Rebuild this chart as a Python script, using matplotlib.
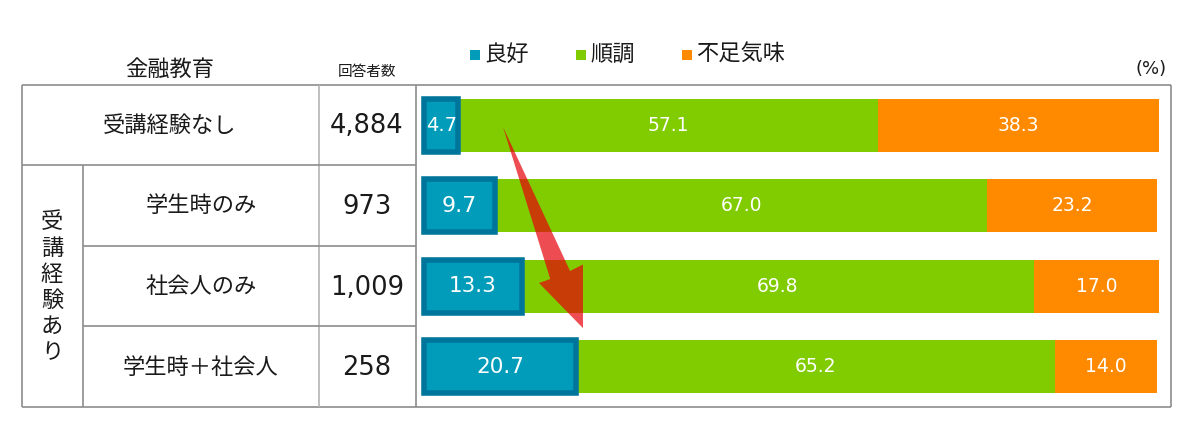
import matplotlib.pyplot as plt
from matplotlib.patches import Polygon, Rectangle

plt.rcParams['font.family'] = ['DejaVu Sans', 'Noto Sans CJK JP']

# データ
categories = ["受講経験なし", "学生時のみ", "社会人のみ", "学生時＋社会人"]
counts = ["4,884", "973", "1,009", "258"]
series_names = ["良好", "順調", "不足気味"]
good = [4.7, 9.7, 13.3, 20.7]
steady = [57.1, 67.0, 69.8, 65.2]
lacking = [38.3, 23.2, 17.0, 14.0]

c_teal = "#009cba"
c_teal_edge = "#00759c"
c_green = "#80cc00"
c_orange = "#ff8a00"
c_line = "#8c8c8c"
c_text = "#1a1a1a"
jp = ['Noto Sans CJK JP', 'DejaVu Sans']

W, H = 1200, 424
fig = plt.figure(figsize=(W / 100, H / 100), dpi=100)

# 表部分（ピクセル座標）
bg = fig.add_axes([0, 0, 1, 1])
bg.set_xlim(0, W)
bg.set_ylim(H, 0)
bg.axis("off")

top, bot = 85, 407
x_l, x_g, x_n, x_b, x_r = 22, 83, 319, 416, 1171
row_y = [125.5 + 80.5 * i for i in range(4)]

def hline(y, x0, x1, c=c_line, lw=1.2):
    bg.plot([x0, x1], [y, y], color=c, lw=lw, solid_capstyle="butt")

def vline(x, y0, y1, c=c_line, lw=1.2):
    bg.plot([x, x], [y0, y1], color=c, lw=lw, solid_capstyle="butt")

hline(top, x_l, x_r)
hline(bot, x_l, x_r)
vline(x_l, top, bot)
vline(x_r, top, bot)
vline(x_b, top, bot)
vline(x_n, top, bot, c="#b4b4b4")
hline(165, x_l, x_b)
hline(246, x_g, x_b)
hline(326, x_g, x_b)
vline(x_g, 165, bot)

bg.text(170, 69, "金融教育", fontsize=16, ha="center", va="center", color=c_text, family=jp)
bg.text(367, 72, "回答者数", fontsize=10.5, ha="center", va="center", color=c_text, family=jp)
bg.text(1151, 69, "(%)", fontsize=13, ha="center", va="center", color=c_text)

for i, (cat, n) in enumerate(zip(categories, counts)):
    cx = 170 if i == 0 else 201
    bg.text(cx, row_y[i], cat, fontsize=16, ha="center", va="center", color=c_text, family=jp)
    bg.text(367, row_y[i] + 1, n, fontsize=18.5, ha="center", va="center", color=c_text)

vert = "受講経験あり"
for k, ch in enumerate(vert):
    bg.text(52, 222 + 26.2 * k, ch, fontsize=16, ha="center", va="center", color=c_text, family=jp)

# 凡例
leg_x = [470, 576, 682]
for lx, name, col in zip(leg_x, series_names, [c_teal, c_green, c_orange]):
    bg.add_patch(Rectangle((lx, 50), 10, 10, color=col, lw=0))
    bg.text(lx + 14, 54, name, fontsize=16, ha="left", va="center", color=c_text, family=jp)

# 帯グラフ
ax = fig.add_axes([x_b / W, 1 - bot / H, (x_r - x_b) / W, (bot - top) / H])
ax.set_facecolor("none")
px = 7.34
ax.set_xlim(-(424 - x_b) / px, 100 + (x_r - 1158) / px)
ax.set_ylim(3.5, -0.5)
ax.axis("off")

ys = list(range(len(categories)))
h = 0.66
left2 = good
left3 = [a + b for a, b in zip(good, steady)]
ax.barh(ys, steady, left=left2, height=h, color=c_green, zorder=2)
ax.barh(ys, lacking, left=left3, height=h, color=c_orange, zorder=2)
ax.barh(ys, good, height=h, color=c_teal, edgecolor=c_teal_edge, linewidth=4, zorder=3)

teal_fs = [14, 16, 15.5, 15.5]
for i in ys:
    ax.text(good[i] / 2, i, f"{good[i]:.1f}", color="white", fontsize=teal_fs[i],
            ha="center", va="center", zorder=5)
    ax.text(left2[i] + steady[i] / 2, i, f"{steady[i]:.1f}", color="white", fontsize=13.5,
            ha="center", va="center", zorder=5)
    ax.text(left3[i] + lacking[i] / 2, i, f"{lacking[i]:.1f}", color="white", fontsize=13.5,
            ha="center", va="center", zorder=5)

# 矢印（行0の良好から行3の良好へ）
arrow_pts = [(10.76, 0.02), (17.2, 1.91), (15.67, 1.96), (21.66, 2.52),
             (21.66, 1.73), (19.9, 1.81)]
ax.add_patch(Polygon(arrow_pts, closed=True, facecolor=(0.91, 0.0, 0.04), alpha=0.7,
                     edgecolor="none", zorder=4))

fig.savefig("out.png", dpi=100)
